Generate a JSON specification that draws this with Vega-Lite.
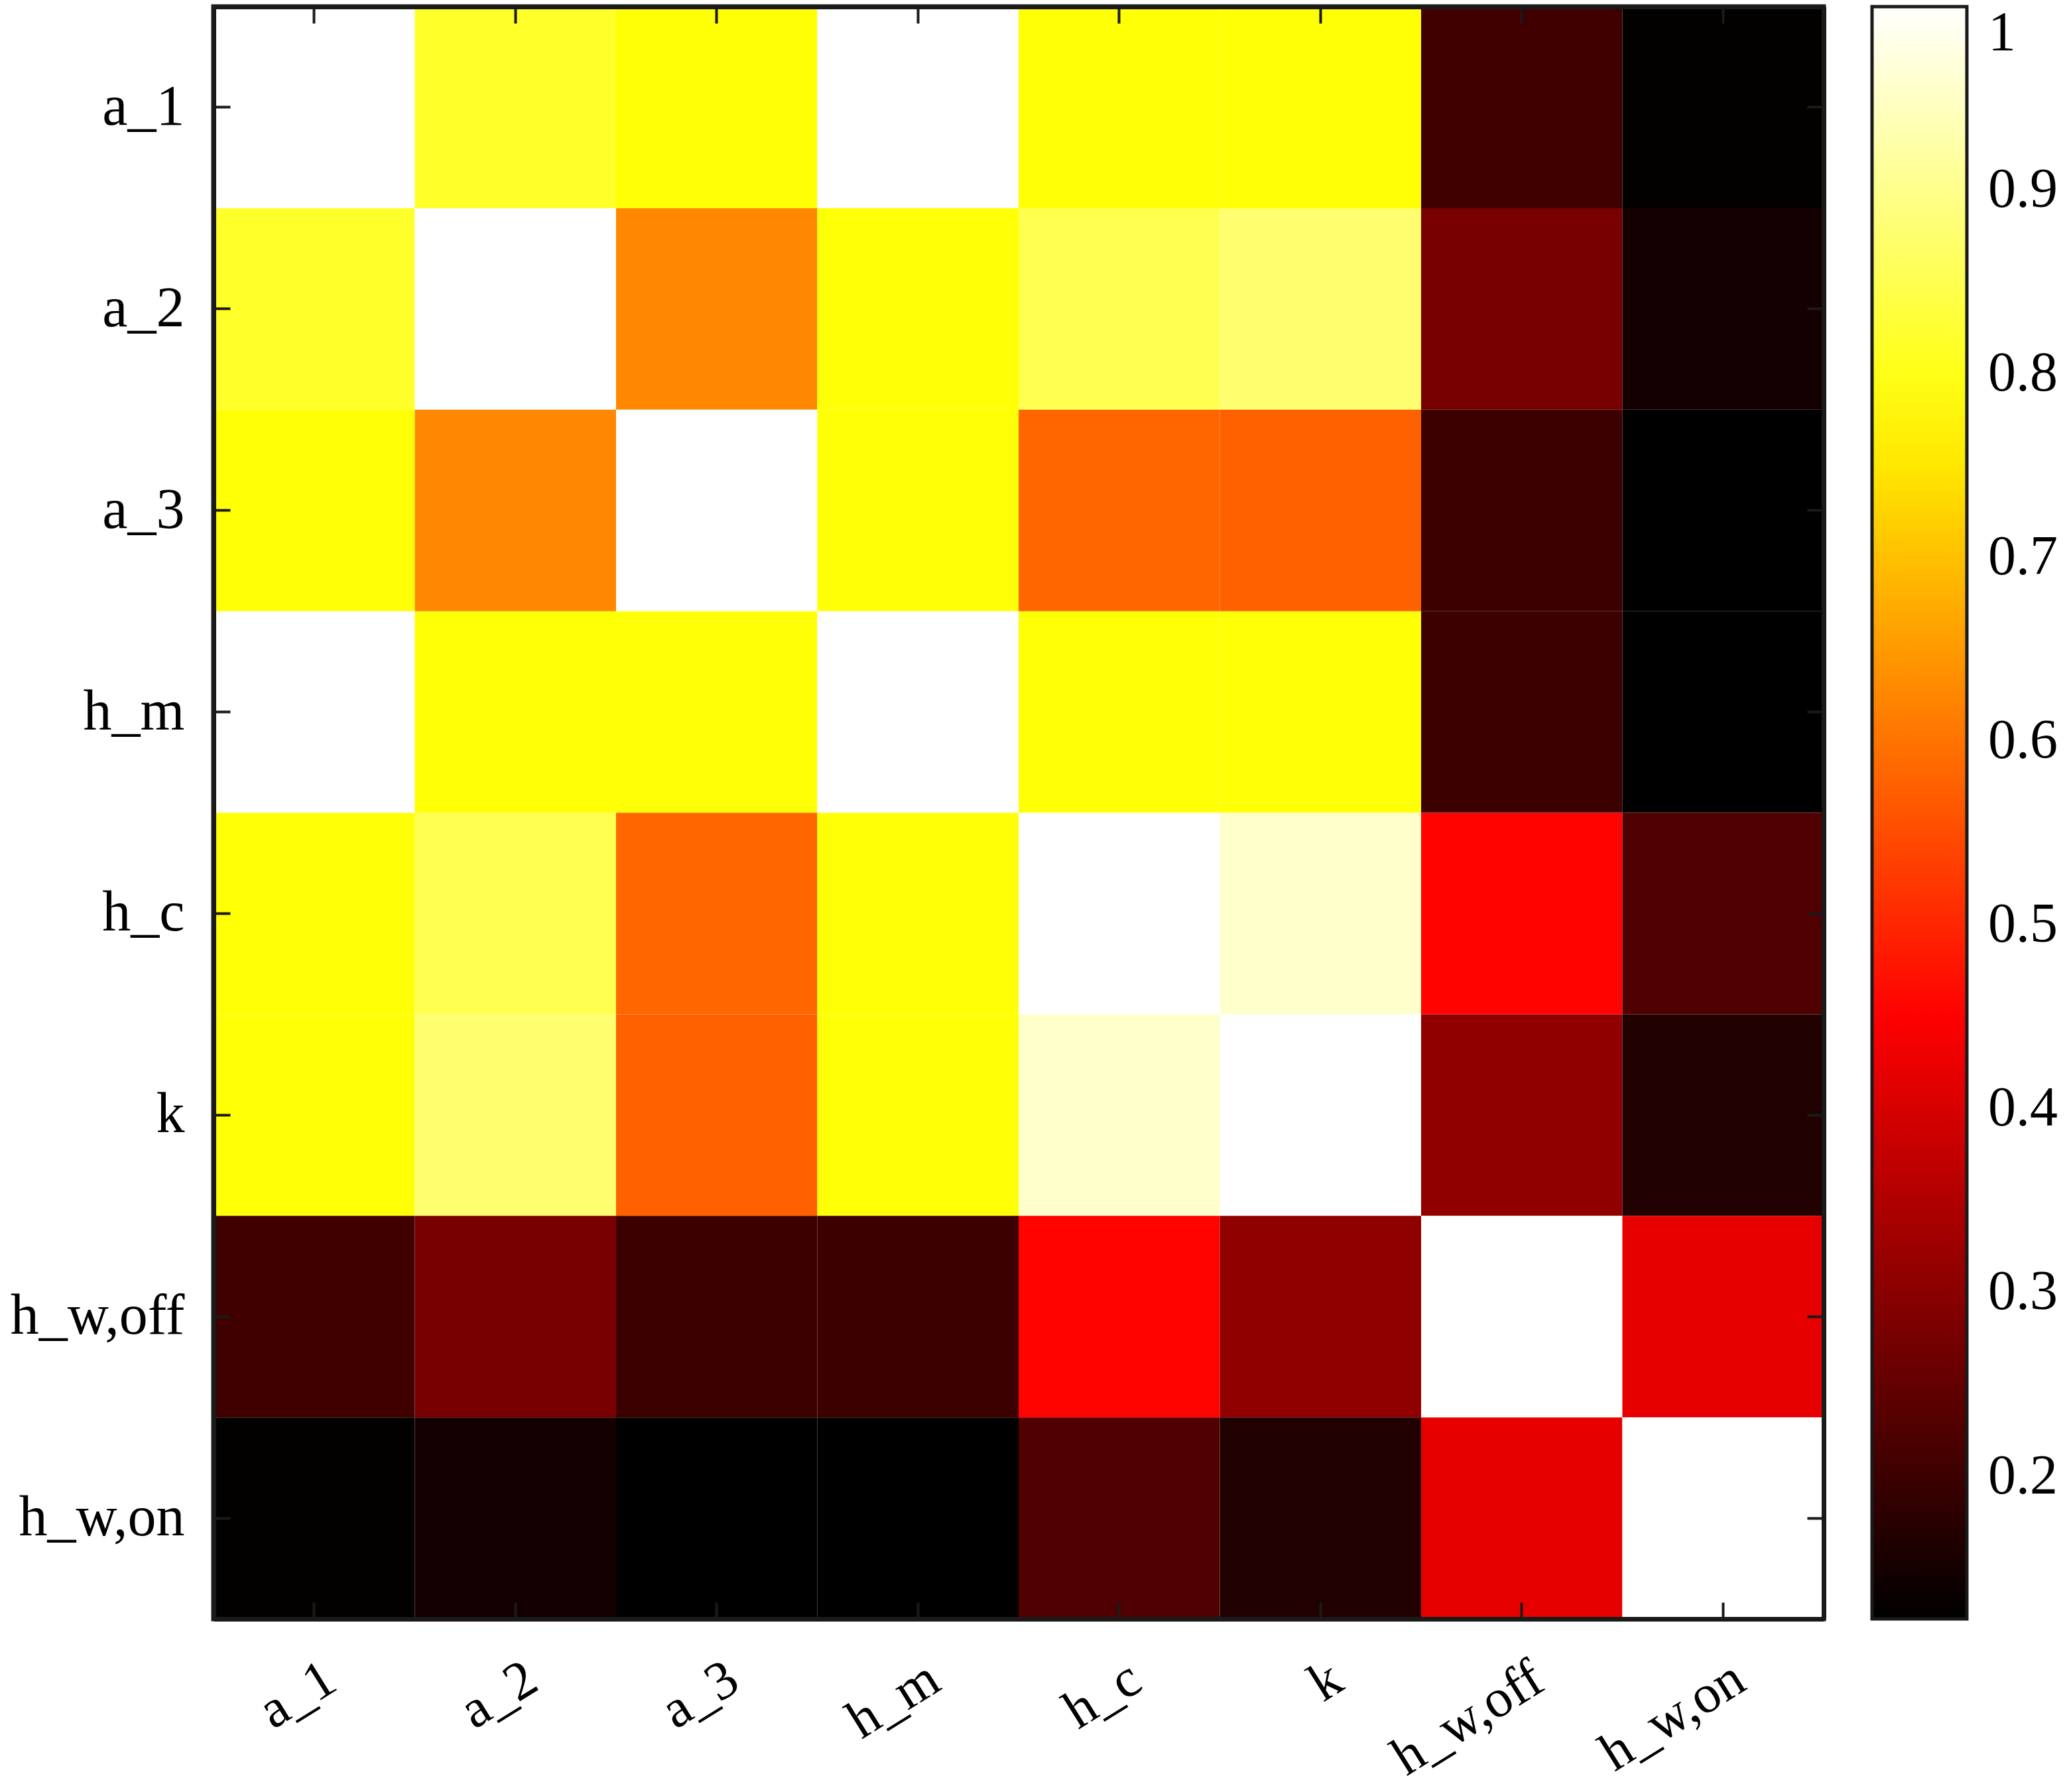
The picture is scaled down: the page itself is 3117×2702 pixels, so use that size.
{
  "$schema": "https://vega.github.io/schema/vega-lite/v6.json",
  "autosize": {"type": "none"},
  "width": 2428,
  "height": 2431,
  "padding": {"left": 322, "top": 10, "right": 367, "bottom": 261},
  "background": "white",
  "config": {"view": {"stroke": "#1a1a1a", "strokeWidth": 7}, "font": "Liberation Serif"},
  "data": {"values": [
    {"row": "a_1", "col": "a_1", "value": 1.0},
    {"row": "a_1", "col": "a_2", "value": 0.816},
    {"row": "a_1", "col": "a_3", "value": 0.785},
    {"row": "a_1", "col": "h_m", "value": 1.0},
    {"row": "a_1", "col": "h_c", "value": 0.785},
    {"row": "a_1", "col": "k", "value": 0.785},
    {"row": "a_1", "col": "h_w,off", "value": 0.205},
    {"row": "a_1", "col": "h_w,on", "value": 0.126},
    {"row": "a_2", "col": "a_1", "value": 0.816},
    {"row": "a_2", "col": "a_2", "value": 1.0},
    {"row": "a_2", "col": "a_3", "value": 0.627},
    {"row": "a_2", "col": "h_m", "value": 0.785},
    {"row": "a_2", "col": "h_c", "value": 0.849},
    {"row": "a_2", "col": "k", "value": 0.877},
    {"row": "a_2", "col": "h_w,off", "value": 0.277},
    {"row": "a_2", "col": "h_w,on", "value": 0.149},
    {"row": "a_3", "col": "a_1", "value": 0.785},
    {"row": "a_3", "col": "a_2", "value": 0.627},
    {"row": "a_3", "col": "a_3", "value": 1.0},
    {"row": "a_3", "col": "h_m", "value": 0.785},
    {"row": "a_3", "col": "h_c", "value": 0.583},
    {"row": "a_3", "col": "k", "value": 0.575},
    {"row": "a_3", "col": "h_w,off", "value": 0.2},
    {"row": "a_3", "col": "h_w,on", "value": 0.124},
    {"row": "h_m", "col": "a_1", "value": 1.0},
    {"row": "h_m", "col": "a_2", "value": 0.785},
    {"row": "h_m", "col": "a_3", "value": 0.785},
    {"row": "h_m", "col": "h_m", "value": 1.0},
    {"row": "h_m", "col": "h_c", "value": 0.785},
    {"row": "h_m", "col": "k", "value": 0.785},
    {"row": "h_m", "col": "h_w,off", "value": 0.2},
    {"row": "h_m", "col": "h_w,on", "value": 0.124},
    {"row": "h_c", "col": "a_1", "value": 0.785},
    {"row": "h_c", "col": "a_2", "value": 0.849},
    {"row": "h_c", "col": "a_3", "value": 0.583},
    {"row": "h_c", "col": "h_m", "value": 0.785},
    {"row": "h_c", "col": "h_c", "value": 1.0},
    {"row": "h_c", "col": "k", "value": 0.956},
    {"row": "h_c", "col": "h_w,off", "value": 0.455},
    {"row": "h_c", "col": "h_w,on", "value": 0.226},
    {"row": "k", "col": "a_1", "value": 0.785},
    {"row": "k", "col": "a_2", "value": 0.877},
    {"row": "k", "col": "a_3", "value": 0.575},
    {"row": "k", "col": "h_m", "value": 0.785},
    {"row": "k", "col": "h_c", "value": 0.956},
    {"row": "k", "col": "k", "value": 1.0},
    {"row": "k", "col": "h_w,off", "value": 0.308},
    {"row": "k", "col": "h_w,on", "value": 0.164},
    {"row": "h_w,off", "col": "a_1", "value": 0.205},
    {"row": "h_w,off", "col": "a_2", "value": 0.277},
    {"row": "h_w,off", "col": "a_3", "value": 0.2},
    {"row": "h_w,off", "col": "h_m", "value": 0.2},
    {"row": "h_w,off", "col": "h_c", "value": 0.455},
    {"row": "h_w,off", "col": "k", "value": 0.308},
    {"row": "h_w,off", "col": "h_w,off", "value": 1.0},
    {"row": "h_w,off", "col": "h_w,on", "value": 0.421},
    {"row": "h_w,on", "col": "a_1", "value": 0.126},
    {"row": "h_w,on", "col": "a_2", "value": 0.149},
    {"row": "h_w,on", "col": "a_3", "value": 0.124},
    {"row": "h_w,on", "col": "h_m", "value": 0.124},
    {"row": "h_w,on", "col": "h_c", "value": 0.226},
    {"row": "h_w,on", "col": "k", "value": 0.164},
    {"row": "h_w,on", "col": "h_w,off", "value": 0.421},
    {"row": "h_w,on", "col": "h_w,on", "value": 1.0}
  ]},
  "layer": [
    {
      "mark": {"type": "rect"},
      "encoding": {
        "x": {
          "field": "col", "type": "nominal",
          "sort": ["a_1", "a_2", "a_3", "h_m", "h_c", "k", "h_w,off", "h_w,on"],
          "scale": {"paddingInner": 0, "paddingOuter": 0},
          "axis": {
            "orient": "bottom", "title": null, "grid": false,
            "labelAngle": -32, "labelAlign": "right", "labelBaseline": "top",
            "labelFont": "Liberation Serif", "labelFontSize": 82, "labelColor": "#000000",
            "labelPadding": 74, "labelOffset": 4, "labelLimit": 0,
            "tickSize": -25, "tickWidth": 4, "tickColor": "#1a1a1a",
            "domainColor": "#1a1a1a", "domainWidth": 7
          }
        },
        "y": {
          "field": "row", "type": "nominal",
          "sort": ["a_1", "a_2", "a_3", "h_m", "h_c", "k", "h_w,off", "h_w,on"],
          "scale": {"paddingInner": 0, "paddingOuter": 0},
          "axis": {
            "orient": "left", "title": null, "grid": false,
            "labelFont": "Liberation Serif", "labelFontSize": 86, "labelColor": "#000000",
            "labelPadding": 69, "labelLimit": 0,
            "tickSize": -25, "tickWidth": 4, "tickColor": "#1a1a1a",
            "domainColor": "#1a1a1a", "domainWidth": 7
          }
        },
        "color": {
          "field": "value", "type": "quantitative",
          "scale": {
            "domain": [0.1226, 0.4516, 0.7807, 1.0],
            "range": ["#000000", "#ff0000", "#ffff00", "#ffffff"],
            "interpolate": "rgb"
          },
          "legend": {
            "orient": "none", "legendX": 2501, "legendY": 0,
            "direction": "vertical", "title": null,
            "gradientLength": 2431, "gradientThickness": 143,
            "gradientStrokeColor": "#1a1a1a", "gradientStrokeWidth": 5,
            "values": [0.2, 0.3, 0.4, 0.5, 0.6, 0.7, 0.8, 0.9, 1.0],
            "format": ".1~f",
            "labelFont": "Liberation Serif", "labelFontSize": 84, "labelColor": "#000000",
            "labelOffset": 32, "labelOverlap": false, "labelBaseline": "middle", "labelLimit": 0
          }
        }
      }
    },
    {
      "mark": {"type": "rect", "opacity": 0},
      "encoding": {
        "x": {
          "field": "col", "type": "nominal",
          "sort": ["a_1", "a_2", "a_3", "h_m", "h_c", "k", "h_w,off", "h_w,on"],
          "axis": {
            "orient": "top", "title": null, "grid": false, "labels": false,
            "tickSize": -25, "tickWidth": 4, "tickColor": "#1a1a1a",
            "domainColor": "#1a1a1a", "domainWidth": 7
          }
        },
        "y": {
          "field": "row", "type": "nominal",
          "sort": ["a_1", "a_2", "a_3", "h_m", "h_c", "k", "h_w,off", "h_w,on"],
          "axis": {
            "orient": "right", "title": null, "grid": false, "labels": false,
            "tickSize": -25, "tickWidth": 4, "tickColor": "#1a1a1a",
            "domainColor": "#1a1a1a", "domainWidth": 7
          }
        }
      }
    }
  ],
  "resolve": {"axis": {"x": "independent", "y": "independent"}}
}
